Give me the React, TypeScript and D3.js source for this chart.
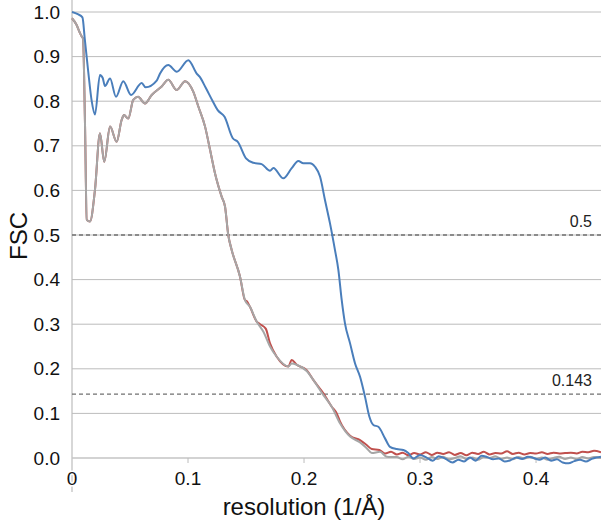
import React, { useEffect, useRef } from 'react';
import * as d3 from 'd3';

// blue curve
const blueRes = [0, 0.005, 0.009, 0.011, 0.014, 0.017, 0.0198, 0.0241, 0.0265, 0.0284, 0.0328, 0.0379, 0.0442, 0.0509, 0.0601, 0.0635, 0.073, 0.0759, 0.083, 0.0903, 0.1003, 0.1075, 0.110, 0.1155, 0.1213, 0.1256, 0.1315, 0.1386, 0.1429, 0.150, 0.1563, 0.1635, 0.1707, 0.1736, 0.1822, 0.1894, 0.1951, 0.1994, 0.2052, 0.2095, 0.2138, 0.2181, 0.2224, 0.2267, 0.2296, 0.2325, 0.2353, 0.2397, 0.244, 0.2483, 0.2526, 0.2563, 0.2598, 0.2641, 0.2698, 0.2741, 0.2799, 0.2856, 0.2899, 0.2942, 0.300, 0.305, 0.311, 0.316, 0.322, 0.328, 0.333, 0.338, 0.343, 0.348, 0.353, 0.358, 0.363, 0.368, 0.373, 0.378, 0.383, 0.388, 0.393, 0.398, 0.403, 0.408, 0.413, 0.418, 0.423, 0.428, 0.433, 0.438, 0.443, 0.448, 0.452, 0.456];
const blueFsc = [1.0, 0.995, 0.988, 0.94, 0.866, 0.80, 0.770, 0.859, 0.852, 0.834, 0.851, 0.810, 0.845, 0.814, 0.841, 0.831, 0.846, 0.862, 0.881, 0.866, 0.892, 0.862, 0.855, 0.829, 0.80, 0.78, 0.765, 0.717, 0.709, 0.672, 0.662, 0.659, 0.644, 0.650, 0.627, 0.650, 0.666, 0.661, 0.661, 0.653, 0.631, 0.578, 0.526, 0.466, 0.422, 0.354, 0.302, 0.257, 0.212, 0.182, 0.137, 0.093, 0.074, 0.070, 0.044, 0.025, 0.020, 0.018, 0.011, -0.001, 0.007, 0.002, -0.006, 0.004, -0.002, -0.010, -0.004, -0.008, 0.001, -0.006, 0.005, 0.002, -0.003, -0.001, -0.008, -0.005, 0.001, -0.002, 0.003, 0.000, -0.004, 0.001, -0.006, -0.003, -0.010, -0.012, -0.007, -0.004, -0.008, -0.002, 0.001, 0.003];

// gray curve
const grayRes = [0, 0.004, 0.007, 0.0084, 0.0095, 0.0112, 0.0127, 0.0155, 0.0198, 0.0241, 0.0278, 0.0328, 0.0385, 0.0428, 0.0448, 0.0485, 0.0528, 0.0569, 0.0629, 0.0687, 0.0773, 0.083, 0.0903, 0.0975, 0.1046, 0.1089, 0.1147, 0.119, 0.1233, 0.129, 0.1319, 0.1347, 0.1377, 0.1448, 0.1491, 0.1534, 0.1592, 0.165, 0.1707, 0.1765, 0.1865, 0.1894, 0.1937, 0.2023, 0.208, 0.2167, 0.2239, 0.231, 0.2397, 0.2483, 0.254, 0.2584, 0.2655, 0.2713, 0.280, 0.285, 0.290, 0.295, 0.300, 0.305, 0.310, 0.315, 0.320, 0.325, 0.330, 0.335, 0.340, 0.345, 0.350, 0.355, 0.360, 0.365, 0.370, 0.375, 0.380, 0.385, 0.390, 0.395, 0.400, 0.405, 0.410, 0.415, 0.420, 0.425, 0.430, 0.435, 0.440, 0.445, 0.450, 0.456];
const grayFsc = [0.986, 0.971, 0.952, 0.945, 0.94, 0.75, 0.534, 0.530, 0.601, 0.728, 0.664, 0.743, 0.709, 0.758, 0.769, 0.761, 0.803, 0.810, 0.795, 0.814, 0.833, 0.848, 0.825, 0.845, 0.821, 0.788, 0.743, 0.691, 0.638, 0.586, 0.564, 0.50, 0.466, 0.407, 0.354, 0.339, 0.306, 0.283, 0.25, 0.227, 0.205, 0.212, 0.209, 0.195, 0.175, 0.141, 0.115, 0.078, 0.048, 0.035, 0.022, 0.011, 0.014, 0.003, 0.002, -0.003, 0.003, -0.002, 0.001, -0.004, 0.002, -0.002, 0.003, -0.003, 0.000, 0.004, -0.002, 0.001, -0.004, 0.002, 0.000, 0.004, -0.002, 0.001, -0.003, 0.002, -0.001, 0.003, -0.002, 0.001, -0.004, 0.000, 0.003, -0.002, 0.001, -0.003, 0.002, -0.001, 0.002, 0.000];

// red curve
const redRes = [0, 0.004, 0.007, 0.0084, 0.0095, 0.0112, 0.0127, 0.0155, 0.0198, 0.0241, 0.0278, 0.0328, 0.0385, 0.0428, 0.0448, 0.0485, 0.0528, 0.0569, 0.0629, 0.0687, 0.0773, 0.083, 0.0903, 0.0975, 0.1046, 0.1089, 0.1147, 0.119, 0.1233, 0.129, 0.1319, 0.1347, 0.1377, 0.1448, 0.1491, 0.1505, 0.1534, 0.1592, 0.1621, 0.167, 0.1707, 0.1765, 0.1865, 0.1894, 0.1937, 0.2023, 0.208, 0.2167, 0.2239, 0.2282, 0.231, 0.2397, 0.2483, 0.254, 0.2584, 0.265, 0.270, 0.275, 0.280, 0.285, 0.290, 0.295, 0.300, 0.305, 0.310, 0.315, 0.320, 0.325, 0.330, 0.335, 0.340, 0.345, 0.350, 0.355, 0.360, 0.365, 0.370, 0.375, 0.380, 0.385, 0.390, 0.395, 0.400, 0.405, 0.410, 0.415, 0.420, 0.425, 0.430, 0.435, 0.440, 0.445, 0.450, 0.456];
const redFsc = [0.986, 0.971, 0.952, 0.945, 0.94, 0.75, 0.534, 0.530, 0.601, 0.728, 0.664, 0.743, 0.709, 0.758, 0.769, 0.761, 0.803, 0.810, 0.795, 0.814, 0.833, 0.848, 0.825, 0.845, 0.821, 0.788, 0.743, 0.691, 0.638, 0.586, 0.564, 0.50, 0.466, 0.407, 0.354, 0.352, 0.339, 0.306, 0.300, 0.29, 0.257, 0.227, 0.205, 0.220, 0.209, 0.197, 0.175, 0.145, 0.115, 0.100, 0.082, 0.050, 0.040, 0.029, 0.020, 0.018, 0.010, 0.014, 0.008, 0.012, 0.006, 0.011, 0.008, 0.013, 0.007, 0.012, 0.009, 0.013, 0.007, 0.011, 0.006, 0.012, 0.009, 0.014, 0.008, 0.011, 0.010, 0.015, 0.009, 0.012, 0.008, 0.011, 0.010, 0.013, 0.009, 0.012, 0.010, 0.011, 0.012, 0.010, 0.014, 0.013, 0.016, 0.013];

const yTicks = [0, 0.1, 0.2, 0.3, 0.4, 0.5, 0.6, 0.7, 0.8, 0.9, 1.0];
const xTicks = [0, 0.1, 0.2, 0.3, 0.4];
const thresholds = [0.5, 0.143];

const App = () => {
  const ref = useRef<SVGSVGElement | null>(null);

  useEffect(() => {
    const width = 601, height = 520;
    const svg = d3.select(ref.current);
    svg.selectAll('*').remove();
    svg.attr('width', width).attr('height', height);

    const font = '"Liberation Sans", Arial, sans-serif';
    const x = d3.scaleLinear().domain([0, 0.456]).range([72, 601]);
    const y = d3.scaleLinear().domain([0, 1]).range([458, 12]);

    svg.append('rect').attr('width', width).attr('height', height).attr('fill', '#fff');

    // gridlines
    svg.append('g').selectAll('line')
      .data(yTicks.filter(t => t > 0))
      .enter().append('line')
      .attr('x1', x(0)).attr('x2', width)
      .attr('y1', d => y(d)).attr('y2', d => y(d))
      .attr('stroke', '#bcbcbc').attr('stroke-width', 1);

    // axes
    svg.append('line').attr('x1', x(0)).attr('x2', x(0)).attr('y1', 0).attr('y2', 492)
      .attr('stroke', '#bcbcbc').attr('stroke-width', 1.2);
    svg.append('line').attr('x1', x(0)).attr('x2', width).attr('y1', y(0)).attr('y2', y(0))
      .attr('stroke', '#c4c4c4').attr('stroke-width', 1.5);
    svg.append('g').selectAll('line')
      .data(xTicks.filter(t => t > 0))
      .enter().append('line')
      .attr('x1', d => x(d)).attr('x2', d => x(d))
      .attr('y1', y(0)).attr('y2', y(0) + 5)
      .attr('stroke', '#bcbcbc').attr('stroke-width', 1);

    // threshold lines
    thresholds.forEach(t => {
      svg.append('line').attr('x1', x(0)).attr('x2', width).attr('y1', y(t)).attr('y2', y(t))
        .attr('stroke', '#707070').attr('stroke-width', 1.3).attr('stroke-dasharray', '4,3');
      svg.append('text').attr('x', 592).attr('y', y(t) - 8)
        .attr('text-anchor', 'end').style('font-family', font).style('font-size', '16px')
        .attr('fill', '#222').text(String(t));
    });

    // tick labels
    svg.append('g').selectAll('text')
      .data(yTicks)
      .enter().append('text')
      .attr('x', 60).attr('y', d => y(d)).attr('dy', '0.35em')
      .attr('text-anchor', 'end').style('font-family', font).style('font-size', '19px')
      .attr('fill', '#111').text(d => d.toFixed(1));
    svg.append('g').selectAll('text')
      .data(xTicks)
      .enter().append('text')
      .attr('x', d => x(d)).attr('y', 485)
      .attr('text-anchor', 'middle').style('font-family', font).style('font-size', '19px')
      .attr('fill', '#111')
      .attr('stroke', d => (d === 0 ? '#fff' : 'none')).attr('stroke-width', 3)
      .style('paint-order', 'stroke')
      .text(d => (d === 0 ? '0' : String(d)));

    // axis titles
    svg.append('text').attr('x', 304).attr('y', 515).attr('text-anchor', 'middle')
      .style('font-family', font).style('font-size', '24px').attr('fill', '#111')
      .text('resolution (1/Å)');
    svg.append('text').attr('transform', 'translate(27,236) rotate(-90)').attr('text-anchor', 'middle')
      .style('font-family', font).style('font-size', '24px').attr('fill', '#111')
      .text('FSC');

    const line = d3.line<[number, number]>()
      .x(d => x(d[0])).y(d => y(d[1]))
      .curve(d3.curveMonotoneX);

    const series = [
      { res: redRes, fsc: redFsc, color: '#c0504d' },
      { res: grayRes, fsc: grayFsc, color: '#a6a6a6' },
      { res: blueRes, fsc: blueFsc, color: '#4a7ebb' },
    ];
    series.forEach(s => {
      const pts = s.res.map((r, i) => [r, s.fsc[i]] as [number, number]);
      svg.append('path').attr('d', line(pts))
        .attr('fill', 'none').attr('stroke', s.color).attr('stroke-width', 2)
        .attr('stroke-linejoin', 'round');
    });
  }, []);

  return (
    <div style={{ position: 'absolute', left: 0, top: 0 }}>
      <svg ref={ref}></svg>
    </div>
  );
};

export default App;
